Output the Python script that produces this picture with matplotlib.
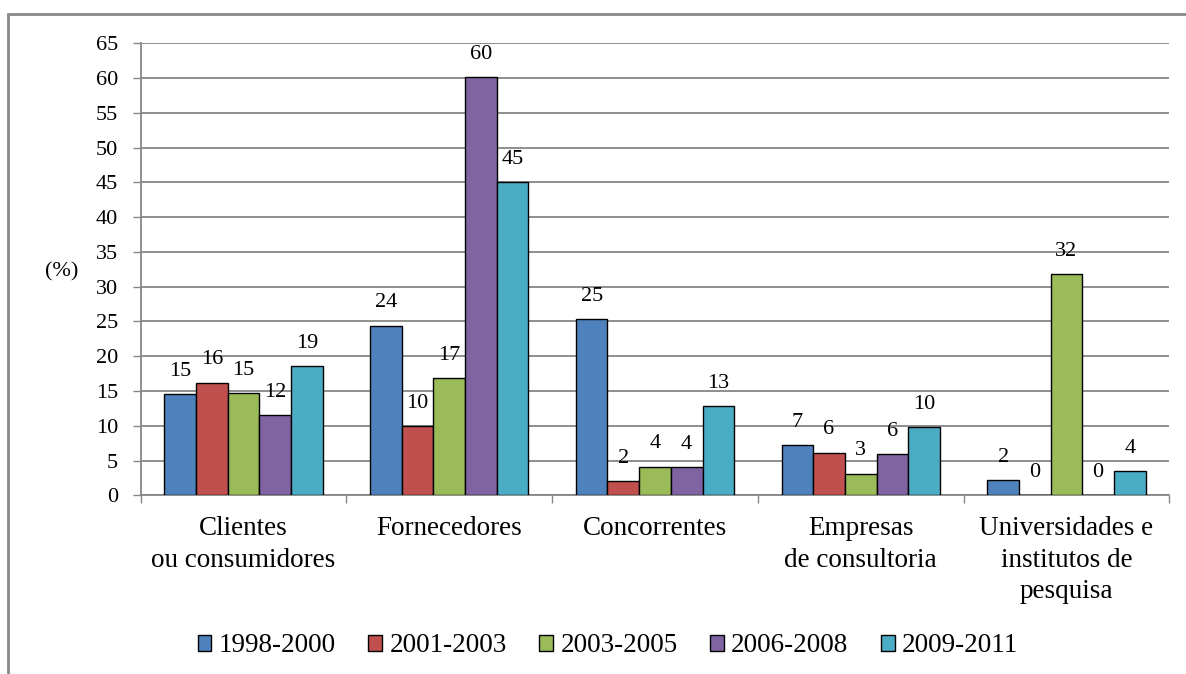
import matplotlib
matplotlib.use("Agg")
import matplotlib.pyplot as plt
import numpy as np
from matplotlib.patches import Rectangle

plt.rcParams['font.family'] = ['Liberation Serif', 'DejaVu Serif']

# data
categories = ['Clientes\nou consumidores', 'Fornecedores', 'Concorrentes',
              'Empresas\nde consultoria', 'Universidades e\ninstitutos de\npesquisa']
periods = ['1998-2000', '2001-2003', '2003-2005', '2006-2008', '2009-2011']
v_1998 = [14.5, 24.4, 25.3, 7.2, 2.2]
v_2001 = [16.2, 9.9, 2.0, 6.1, 0.0]
v_2003 = [14.7, 16.8, 4.1, 3.1, 31.8]
v_2006 = [11.5, 60.1, 4.0, 5.9, 0.0]
v_2009 = [18.6, 45.0, 12.8, 9.8, 3.5]
# labels as printed on the bars
lab_1998 = [15, 24, 25, 7, 2]
lab_2001 = [16, 10, 2, 6, 0]
lab_2003 = [15, 17, 4, 3, 32]
lab_2006 = [12, 60, 4, 6, 0]
lab_2009 = [19, 45, 13, 10, 4]

series = [v_1998, v_2001, v_2003, v_2006, v_2009]
labels = [lab_1998, lab_2001, lab_2003, lab_2006, lab_2009]
colors = ['#4F81BD', '#C0504D', '#9BBB59', '#8064A2', '#4BACC6']
grid_col = '#868686'

W, H = 1186, 674
fig = plt.figure(figsize=(W / 100, H / 100), dpi=100)
ax = fig.add_axes([140.7 / W, 1 - 495.3 / H, (1169.3 - 140.7) / W, (495.3 - 43.3) / H])

x = np.arange(len(categories))
bw = 0.154
for i, (vals, labs) in enumerate(zip(series, labels)):
    pos = x + (i - 2) * bw
    ax.bar(pos, vals, bw, color=colors[i], edgecolor='black', linewidth=1.0,
           label=periods[i], zorder=3)
    for px, v, l in zip(pos, vals, labs):
        ax.annotate(str(l), (px, v), xytext=(0, 16.5), textcoords='offset points',
                    ha='center', va='center', fontsize=16)

ax.set_xlim(-0.5, len(categories) - 0.5)
ax.set_ylim(0, 65)
ax.set_yticks(np.arange(0, 66, 5))
ax.yaxis.grid(True, color=grid_col, linewidth=1.3, zorder=0)
ax.set_axisbelow(True)
ax.tick_params(axis='y', length=5.8, width=1.0, color=grid_col, pad=10.5, labelsize=16)

ax.set_xticks(x)
ax.set_xticklabels(categories, fontsize=19.5, linespacing=1.35)
ax.set_xticks(np.arange(-0.5, len(categories)), minor=True)
ax.tick_params(axis='x', which='major', length=0, pad=15)
ax.tick_params(axis='x', which='minor', length=5.8, width=1.0, color=grid_col)

for s in ['top', 'right']:
    ax.spines[s].set_visible(False)
for s in ['left', 'bottom']:
    ax.spines[s].set_color(grid_col)
    ax.spines[s].set_linewidth(1.3)

fig.text(62 / W, 1 - 272 / H, '(%)', fontsize=16, ha='center', va='center')

fig.legend(loc='center', bbox_to_anchor=(608 / W, 1 - 646 / H), ncol=5,
           frameon=False, fontsize=19.5, handlelength=0.5, handleheight=0.5,
           handletextpad=0.28, columnspacing=1.2, borderaxespad=0)

# outer chart frame
fig.patches.append(Rectangle((8 / W, -0.1), 1.2, 1.1 - 14 / H, transform=fig.transFigure,
                             fill=False, edgecolor='#888888', linewidth=2))

fig.savefig('out.png', dpi=100)
